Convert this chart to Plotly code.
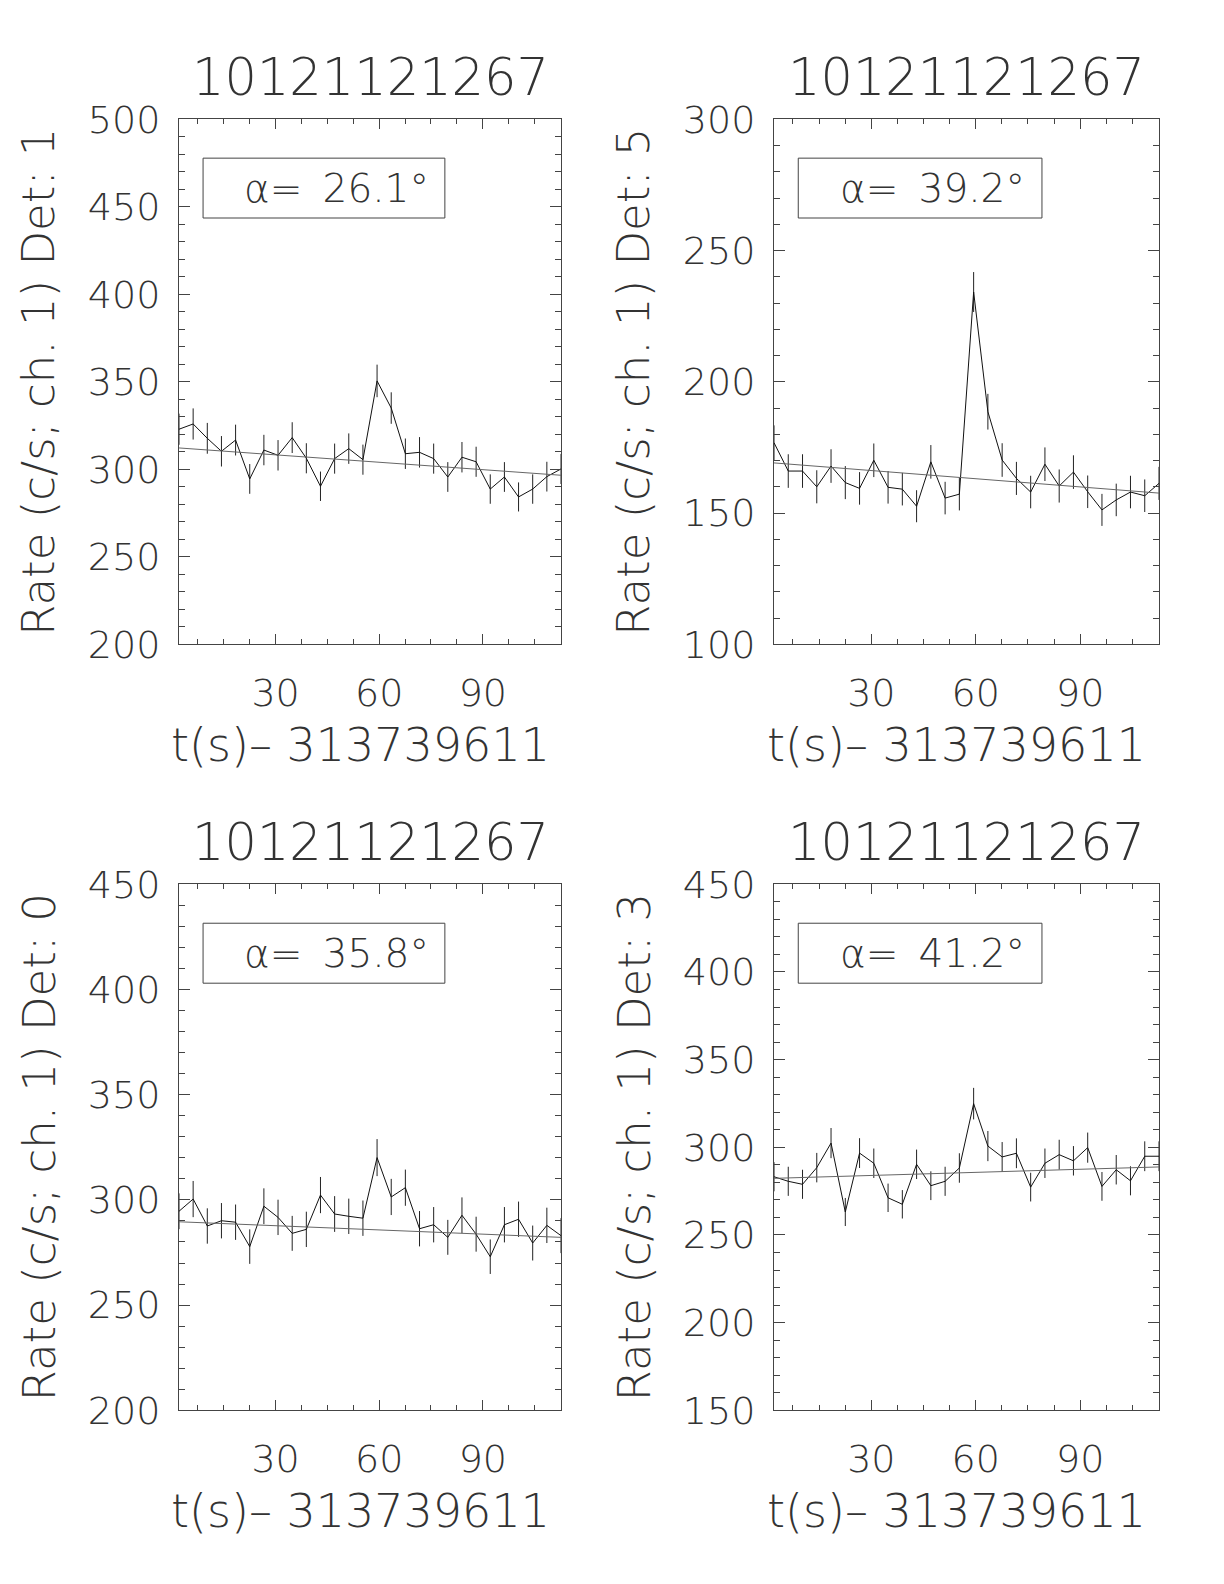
import plotly.graph_objects as go

# ---------------- data ----------------
t = [2.048, 6.144, 10.24, 14.336, 18.432, 22.528, 26.624, 30.72, 34.816, 38.912,
     43.008, 47.104, 51.2, 55.296, 59.392, 63.488, 67.584, 71.68, 75.776, 79.872,
     83.968, 88.064, 92.16, 96.256, 100.352, 104.448, 108.544, 112.64]

rate_det1 = [322.9, 325.9, 317.7, 310.3, 316.7, 294.5, 311.0, 308.0, 318.1, 306.3,
             290.3, 306.1, 311.8, 305.5, 350.5, 335.0, 308.9, 309.7, 306.1, 295.6,
             306.9, 304.3, 288.7, 295.6, 284.2, 288.7, 295.8, 300.2]
err_det1 = [8.9, 8.9, 8.8, 8.7, 8.8, 8.5, 8.7, 8.7, 8.8, 8.6, 8.4, 8.6, 8.7, 8.6,
            9.3, 9.0, 8.7, 8.7, 8.6, 8.5, 8.7, 8.6, 8.4, 8.5, 8.3, 8.4, 8.5, 8.6]
bg_det1 = [312.2, 296.6]

rate_det5 = [176.8, 166.0, 166.0, 160.0, 167.9, 161.6, 159.4, 170.1, 159.8, 159.1,
             152.6, 169.5, 155.7, 157.2, 234.2, 188.6, 170.2, 163.2, 158.0, 168.6,
             160.3, 165.6, 158.1, 151.2, 155.0, 158.0, 156.6, 161.3]
err_det5 = [6.6, 6.4, 6.4, 6.3, 6.4, 6.3, 6.2, 6.4, 6.2, 6.2, 6.1, 6.4, 6.2, 6.2,
            7.6, 6.8, 6.4, 6.3, 6.2, 6.4, 6.3, 6.4, 6.2, 6.1, 6.2, 6.2, 6.2, 6.3]
bg_det5 = [169.1, 157.6]

rate_det0 = [294.6, 300.4, 287.6, 290.1, 289.4, 277.8, 297.0, 291.7, 284.1, 286.0,
             302.3, 293.3, 292.2, 291.3, 320.1, 301.4, 305.8, 286.3, 288.2, 282.2,
             292.7, 283.7, 273.0, 288.2, 290.8, 279.5, 287.9, 283.0]
err_det0 = [8.5, 8.6, 8.4, 8.4, 8.4, 8.2, 8.5, 8.4, 8.3, 8.4, 8.6, 8.5, 8.4, 8.4,
            8.8, 8.6, 8.6, 8.4, 8.4, 8.3, 8.5, 8.3, 8.2, 8.4, 8.4, 8.3, 8.4, 8.3]
bg_det0 = [289.6, 282.2]

rate_det3 = [283.2, 280.6, 278.9, 288.4, 302.4, 263.1, 296.7, 290.9, 271.2, 267.5,
             290.3, 278.1, 280.6, 288.2, 324.9, 300.7, 294.5, 296.6, 277.3, 290.9,
             295.8, 292.3, 299.8, 277.7, 287.2, 280.9, 294.9, 294.9]
err_det3 = [8.3, 8.3, 8.3, 8.4, 8.6, 8.0, 8.5, 8.4, 8.1, 8.1, 8.4, 8.2, 8.3, 8.4,
            9.0, 8.6, 8.5, 8.5, 8.2, 8.4, 8.5, 8.4, 8.6, 8.2, 8.4, 8.3, 8.5, 8.5]
bg_det3 = [282.3, 288.8]

title_text = "10121121267"
xlabel = "t(s)\u2013 313739611"
dets = ["1", "5", "0", "3"]
alphas = ["26.1", "39.2", "35.8", "41.2"]
yranges = [[200, 500], [100, 300], [200, 450], [150, 450]]
rates = [rate_det1, rate_det5, rate_det0, rate_det3]
errs = [err_det1, err_det5, err_det0, err_det3]
bgs = [bg_det1, bg_det5, bg_det0, bg_det3]

# ---------------- layout geometry (pixels of 1224x1584 page) ----------------
W, H = 1224, 1584
OFFX, OFFY = 6, 8  # page body margin compensation
px_x = [(177, 559), (772, 1157), (177, 559), (772, 1157)]
px_y = [(119.3, 644.3), (119.3, 644.3), (884.3, 1410.3), (884.3, 1410.3)]

FONT = "DejaVu Sans"
WT = 200
TXT = "#333333"
AX = "#444444"

fig = go.Figure()
layout = dict(width=W, height=H, margin=dict(l=0, r=0, t=0, b=0, autoexpand=False),
              paper_bgcolor="white", plot_bgcolor="white", showlegend=False)
annotations = []
shapes = []

for i in range(4):
    n = "" if i == 0 else str(i + 1)
    xa, ya = "x" + n, "y" + n
    x0, x1 = px_x[i][0] - OFFX, px_x[i][1] - OFFX
    yt, yb = px_y[i][0] - OFFY, px_y[i][1] - OFFY
    xd = [x0 / W, x1 / W]
    yd = [1 - yb / H, 1 - yt / H]

    fig.add_trace(go.Scatter(
        x=t, y=rates[i], mode="lines", xaxis=xa, yaxis=ya,
        line=dict(color="#111111", width=1),
        error_y=dict(type="data", array=errs[i], visible=True,
                     color="#222222", thickness=1, width=0)))
    fig.add_trace(go.Scatter(
        x=[t[0], t[-1]], y=bgs[i], mode="lines", xaxis=xa, yaxis=ya,
        line=dict(color="#666666", width=1)))

    common = dict(showgrid=False, zeroline=False, showline=True, linecolor=AX,
                  linewidth=1, mirror="allticks", ticks="inside", tickcolor=AX,
                  tickwidth=1, automargin=False,
                  tickfont=dict(family=FONT, size=38, color=TXT, weight=WT))
    layout["xaxis" + n] = dict(
        domain=xd, anchor=ya, range=[t[0], t[-1]], tick0=0, dtick=30,
        ticklen=10, ticklabelstandoff=15,
        minor=dict(dtick=7.5, tick0=0, ticklen=5, ticks="inside",
                   tickcolor=AX, showgrid=False),
        **common)
    layout["yaxis" + n] = dict(
        domain=yd, anchor=xa, range=yranges[i], tick0=0, dtick=50,
        ticklen=11, ticklabelstandoff=10,
        minor=dict(dtick=10, tick0=0, ticklen=6, ticks="inside",
                   tickcolor=AX, showgrid=False),
        **common)

    # panel title
    annotations.append(dict(
        text=title_text, x=(x0 + x1) / 2 / W, y=1 - (yt - 42) / H,
        xref="paper", yref="paper", xanchor="center", yanchor="middle",
        showarrow=False, font=dict(family=FONT, size=51, color=TXT, weight=WT)))
    # x title
    annotations.append(dict(
        text=xlabel, x=((x0 + x1) / 2 - 10) / W, y=1 - (yb + 101) / H,
        xref="paper", yref="paper", xanchor="center", yanchor="middle",
        showarrow=False, font=dict(family=FONT, size=46, color=TXT, weight=WT)))
    # y title
    annotations.append(dict(
        text="Rate (c/s; ch. 1) Det: " + dets[i], x=(x0 - 140) / W,
        y=1 - (yt + yb) / 2 / H, xref="paper", yref="paper",
        xanchor="center", yanchor="middle", textangle=-90,
        showarrow=False, font=dict(family=FONT, size=45, color=TXT, weight=WT)))
    # alpha label box
    shapes.append(dict(type="rect", xref=xa + " domain", yref=ya + " domain",
                       x0=0.063, x1=0.696, y0=0.812, y1=0.926,
                       line=dict(color=AX, width=1)))
    annotations.append(dict(
        text="\u03b1= \u2009" + alphas[i] + "\u00b0", x=0.165, y=0.869,
        xref=xa + " domain", yref=ya + " domain", xanchor="left",
        yanchor="middle", showarrow=False,
        font=dict(family=FONT, size=39, color=TXT, weight=WT)))

layout["annotations"] = annotations
layout["shapes"] = shapes
fig.update_layout(**layout)
fig.write_html("out.html")
